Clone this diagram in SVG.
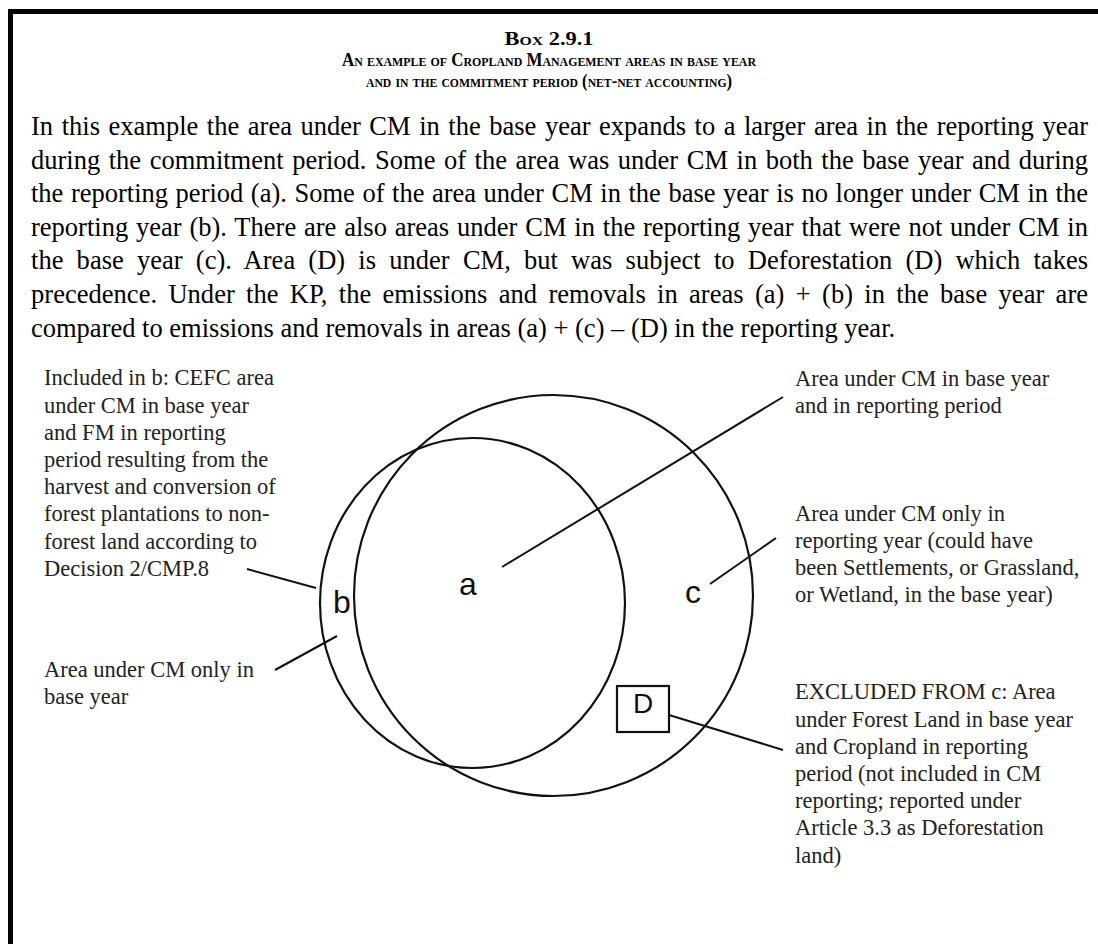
<svg xmlns="http://www.w3.org/2000/svg" width="1098" height="944" viewBox="0 0 1098 944">
<style>
.frame{fill:#000}
.title{font-family:"Liberation Serif","Times New Roman",serif;font-weight:bold;font-variant:small-caps;font-size:18.5px;text-anchor:middle;fill:#000}
.para{font-family:"Liberation Serif","Times New Roman",serif;font-size:26.5px;fill:#000}
.lbl{font-family:"Liberation Serif","Times New Roman",serif;font-size:22.5px;fill:#222}
.area{font-family:"Liberation Sans",Arial,sans-serif;font-size:32px;fill:#111;text-anchor:middle}
.shape{fill:none;stroke:#111;stroke-width:2.2}
.conn{stroke:#111;stroke-width:2;fill:none}
</style>
<rect width="1098" height="944" fill="#fff"/>
<g id="frame" class="frame">
  <rect x="8" y="9" width="1090" height="5"/>
  <rect x="8" y="9" width="5" height="935"/>
</g>
<g id="title">
  <text class="title" x="549" y="45" textLength="89" lengthAdjust="spacingAndGlyphs">Box 2.9.1</text>
  <text class="title" x="549" y="66" textLength="414" lengthAdjust="spacingAndGlyphs">An example of Cropland Management areas in base year</text>
  <text class="title" x="549" y="86.5" textLength="366" lengthAdjust="spacingAndGlyphs">and in the commitment period (net-net accounting)</text>
</g>
<g id="paragraph" class="para">
  <text x="31" y="135" style="word-spacing:1.91px" textLength="1057" lengthAdjust="spacing">In this example the area under CM in the base year expands to a larger area in the reporting year</text>
  <text x="31" y="168.6" style="word-spacing:1.91px" textLength="1057" lengthAdjust="spacing">during the commitment period. Some of the area was under CM in both the base year and during</text>
  <text x="31" y="202.2" style="word-spacing:0.93px" textLength="1057" lengthAdjust="spacing">the reporting period (a). Some of the area under CM in the base year is no longer under CM in the</text>
  <text x="31" y="235.8" style="word-spacing:1.2px" textLength="1057" lengthAdjust="spacing">reporting year (b). There are also areas under CM in the reporting year that were not under CM in</text>
  <text x="31" y="269.4" style="word-spacing:6.54px" textLength="1057" lengthAdjust="spacing">the base year (c). Area (D) is under CM, but was subject to Deforestation (D) which takes</text>
  <text x="31" y="303" style="word-spacing:4.64px" textLength="1057" lengthAdjust="spacing">precedence. Under the KP, the emissions and removals in areas (a) + (b) in the base year are</text>
  <text x="31" y="336.6">compared to emissions and removals in areas (a) + (c) – (D) in the reporting year.</text>
</g>
<g id="region-reporting">
  <ellipse class="shape" cx="553.5" cy="595.5" rx="199.5" ry="200.5"/>
</g>
<g id="region-base">
  <ellipse class="shape" cx="472.5" cy="603" rx="152.5" ry="165"/>
</g>
<g id="label-a"><text class="area" x="468" y="595">a</text></g>
<g id="label-b"><text class="area" x="342" y="613">b</text></g>
<g id="label-c"><text class="area" x="693" y="603">c</text></g>
<g id="box-D">
  <rect class="shape" x="617" y="686" width="52" height="46" fill="#fff"/>
  <text class="area" x="643" y="713" style="font-size:28px">D</text>
</g>
<g id="note-cefc" class="lbl">
  <text x="44" y="385.3">Included in b: CEFC area<tspan x="44" dy="27.2">under CM in base year</tspan><tspan x="44" dy="27.2">and FM in reporting</tspan><tspan x="44" dy="27.2">period resulting from the</tspan><tspan x="44" dy="27.2">harvest and conversion of</tspan><tspan x="44" dy="27.2">forest plantations to non-</tspan><tspan x="44" dy="27.2">forest land according to</tspan><tspan x="44" dy="27.2">Decision 2/CMP.8</tspan></text>
</g>
<g id="note-base-only" class="lbl">
  <text x="44" y="677">Area under CM only in<tspan x="44" dy="27.2">base year</tspan></text>
</g>
<g id="note-both" class="lbl">
  <text x="795" y="386">Area under CM in base year<tspan x="795" dy="27.2">and in reporting period</tspan></text>
</g>
<g id="note-reporting-only" class="lbl">
  <text x="795" y="520.7">Area under CM only in<tspan x="795" dy="27.2">reporting year (could have</tspan><tspan x="795" dy="27.2">been Settlements, or Grassland,</tspan><tspan x="795" dy="27.2">or Wetland, in the base year)</tspan></text>
</g>
<g id="note-excluded" class="lbl">
  <text x="795" y="699.3">EXCLUDED FROM c: Area<tspan x="795" dy="27.2">under Forest Land in base year</tspan><tspan x="795" dy="27.2">and Cropland in reporting</tspan><tspan x="795" dy="27.2">period (not included in CM</tspan><tspan x="795" dy="27.2">reporting; reported under</tspan><tspan x="795" dy="27.2">Article 3.3 as Deforestation</tspan><tspan x="795" dy="27.2">land)</tspan></text>
</g>
<g id="connectors" class="conn">
  <line x1="502" y1="567" x2="783" y2="397"/>
  <line x1="710" y1="584" x2="776" y2="538"/>
  <line x1="247" y1="569" x2="316" y2="588"/>
  <line x1="337" y1="636" x2="275" y2="670"/>
  <line x1="669" y1="715" x2="783" y2="750"/>
</g>
</svg>
